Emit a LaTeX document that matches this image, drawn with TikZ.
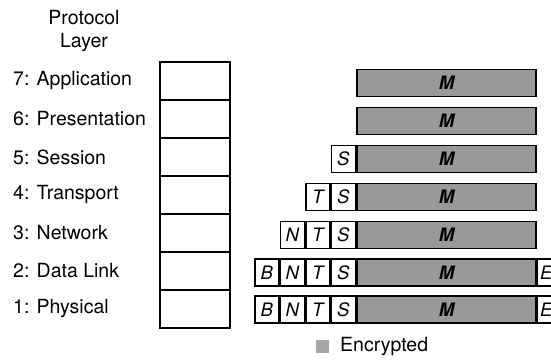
\documentclass[tikz,border=0pt]{standalone}
\usepackage{fontspec}
\setmainfont{TeX Gyre Heros}
\begin{document}
\begin{tikzpicture}[x=1pt,y=-1pt,
  lbl/.style={anchor=west,font=\fontsize{19.5}{22}\selectfont,inner sep=0pt},
  layerbox/.style={draw,line width=1.6pt,minimum width=70pt,minimum height=38pt,inner sep=0pt},
  hdr/.style={draw,line width=1.5pt,fill=white,minimum width=24pt,minimum height=27pt,inner sep=0pt,font=\fontsize{18.5}{20}\selectfont\itshape},
  trailer/.style={hdr,text width=19pt,align=left,inner xsep=2.5pt},
  bar/.style={draw,line width=1.8pt,fill=black!40,minimum width=179pt,minimum height=27pt,inner sep=0pt,font=\fontsize{18.5}{20}\selectfont\bfseries\itshape}]
\useasboundingbox (0,0) rectangle (551,360);
\begin{scope}
\clip (0,0) rectangle (551,360);
\node[align=center,font=\fontsize{19.5}{23}\selectfont] (title) at (84,31) {Protocol\\Layer};
% layer labels and boxes
\foreach \n/\lt [count=\i from 0] in {7/7: Application,6/6: Presentation,5/5: Session,4/4: Transport,3/3: Network,2/2: Data Link,1/1: Physical}{
  \node[lbl] (l\n) at (13,{81+38*\i}) {\lt};
  \node[layerbox] (b\n) at (195,{81+38*\i}) {};
}
% messages
\node[bar] (m7) at (446.5,83) {M};
\node[bar] (m6) at (446.5,121) {M};
\node[bar] (m5) at (446.5,159) {M};
\node[hdr,anchor=east] (s5) at (m5.west) {S};
\node[bar] (m4) at (446.5,197) {M};
\node[hdr,anchor=east] (s4) at (m4.west) {S};
\node[hdr,anchor=east] (t4) at (s4.west) {T};
\node[bar] (m3) at (446.5,235) {M};
\node[hdr,anchor=east] (s3) at (m3.west) {S};
\node[hdr,anchor=east] (t3) at (s3.west) {T};
\node[hdr,anchor=east] (n3) at (t3.west) {N};
\node[bar] (m2) at (446.5,272.5) {M};
\node[hdr,anchor=east] (s2) at (m2.west) {S};
\node[hdr,anchor=east] (t2) at (s2.west) {T};
\node[hdr,anchor=east] (n2) at (t2.west) {N};
\node[hdr,anchor=east] (bb2) at (n2.west) {B};
\node[trailer,anchor=west] (e2) at (m2.east) {E};
\node[bar] (m1) at (446.5,309.5) {M};
\node[hdr,anchor=east] (s1) at (m1.west) {S};
\node[hdr,anchor=east] (t1) at (s1.west) {T};
\node[hdr,anchor=east] (n1) at (t1.west) {N};
\node[hdr,anchor=east] (bb1) at (n1.west) {B};
\node[trailer,anchor=west] (e1) at (m1.east) {E};
% legend
\node[fill=black!35,minimum width=13pt,minimum height=13pt,inner sep=0pt] (key) at (322,346) {};
\node[lbl,anchor=west] (keytext) at (340,347) {Encrypted};
\end{scope}
\end{tikzpicture}
\end{document}
